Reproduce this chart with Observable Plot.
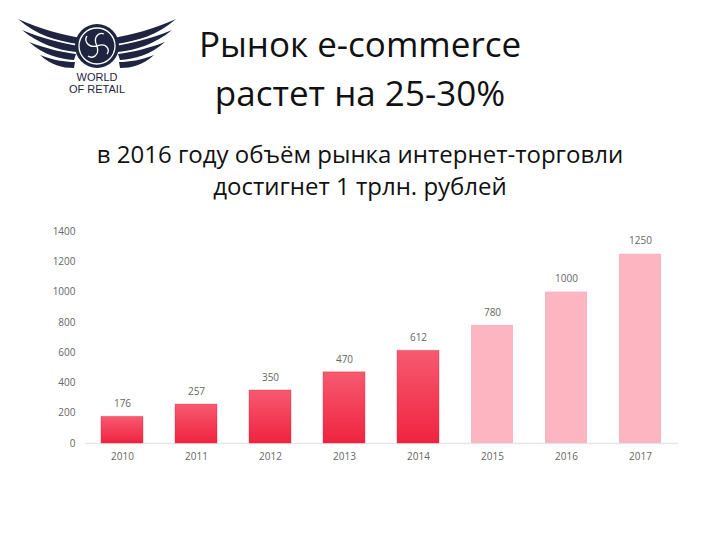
<!DOCTYPE html>
<html>
<head>
<meta charset="utf-8">
<script src="https://cdn.jsdelivr.net/npm/d3@7"></script>
<script src="https://cdn.jsdelivr.net/npm/@observablehq/plot@0.6"></script>
<style>
  html, body { margin: 0; padding: 0; background: #fff; width: 720px; height: 540px; overflow: hidden; }
  body { position: relative; font-family: "Open Sans", sans-serif; color: #111; }
  .t { position: absolute; left: 0; width: 720px; text-align: center; white-space: nowrap; }
  #title1 { top: 22px; font-size: 35px; line-height: 44px; }
  #title2 { top: 71px; font-size: 35px; line-height: 44px; }
  #sub1 { top: 139px; font-size: 24px; line-height: 30px; }
  #sub2 { top: 171px; font-size: 24px; line-height: 30px; }
  #logo { position: absolute; left: 12px; top: 14px; }
  #chart { position: absolute; left: 0; top: 215px; }
</style>
</head>
<body>
<svg id="logo" width="170" height="85" viewBox="0 0 170 85">
  <g fill="#1f2540">
    <path d="M6 5 C30 16 50 20 68 24 L66 30 C45 27 24 21 6 5 Z"/>
    <path d="M10 16 C32 25 50 29 66 32 L64 38 C45 36 27 30 10 16 Z"/>
    <path d="M17 28 C35 35 50 38 64 40 L62 46 C47 45 32 41 17 28 Z"/>
    <path d="M28 41 C41 46 52 48 63 48 L62 54 C50 54 39 51 28 41 Z"/>
    <path d="M164 5 C140 16 120 20 102 24 L104 30 C125 27 146 21 164 5 Z"/>
    <path d="M160 16 C138 25 120 29 104 32 L106 38 C125 36 143 30 160 16 Z"/>
    <path d="M153 28 C135 35 120 38 106 40 L108 46 C123 45 138 41 153 28 Z"/>
    <path d="M142 41 C129 46 118 48 107 48 L108 54 C120 54 131 51 142 41 Z"/>
    <circle cx="85" cy="32" r="22"/>
  </g>
  <g fill="none" stroke="#fff" stroke-width="1.3">
    <circle cx="85" cy="32" r="18"/>
    <path d="M85 32 C80 22 88 18 92 20 M85 32 C95 28 98 36 95 40 M85 32 C88 42 80 45 76 42 M85 32 C75 34 72 26 75 22"/>
  </g>
  <text x="85" y="67" text-anchor="middle" font-family="Liberation Sans, sans-serif" font-size="11" fill="#1f2540">WORLD</text>
  <text x="85" y="79" text-anchor="middle" font-family="Liberation Sans, sans-serif" font-size="11" fill="#1f2540">OF RETAIL</text>
</svg>
<div class="t" id="title1">Рынок e-commerce</div>
<div class="t" id="title2">растет на 25-30%</div>
<div class="t" id="sub1">в 2016 году объём рынка интернет-торговли</div>
<div class="t" id="sub2">достигнет 1 трлн. рублей</div>
<div id="chart"></div>
<script>
const years = ["2010", "2011", "2012", "2013", "2014", "2015", "2016", "2017"];
const values = [176, 257, 350, 470, 612, 780, 1000, 1250];
const kinds = ["fact", "fact", "fact", "fact", "fact", "forecast", "forecast", "forecast"];
const yTicks = [0, 200, 400, 600, 800, 1000, 1200, 1400];

const data = years.map((y, i) => ({year: y, value: values[i], kind: kinds[i]}));

const chart = Plot.plot({
  width: 720,
  height: 260,
  marginTop: 16,
  marginBottom: 32,
  marginLeft: 85,
  marginRight: 42,
  style: {fontFamily: "Open Sans, sans-serif", fontSize: "10px", color: "#666", background: "transparent"},
  x: {domain: years, paddingInner: 0.43, paddingOuter: 0.215, label: null, tickSize: 0, tickPadding: 9},
  y: {domain: [0, 1400], ticks: yTicks, tickFormat: d => String(d), label: null, tickSize: 0, tickPadding: 10},
  marks: [
    Plot.ruleY([0], {stroke: "#e6e6e6", strokeWidth: 1.5}),
    Plot.barY(data.filter(d => d.kind === "fact"), {x: "year", y: "value", fill: "url(#redGrad)", stroke: "#d8233e", strokeOpacity: 0.35, strokeWidth: 1}),
    Plot.barY(data.filter(d => d.kind === "forecast"), {x: "year", y: "value", fill: "#fdb6c1"}),
    Plot.text(data, {x: "year", y: "value", text: d => String(d.value), dy: -13, fill: "#666", fontSize: 10})
  ]
});

const defs = d3.select(chart).insert("defs", ":first-child");
const g = defs.append("linearGradient").attr("id", "redGrad").attr("x1", 0).attr("y1", 0).attr("x2", 0).attr("y2", 1);
g.append("stop").attr("offset", "0%").attr("stop-color", "#f75a70");
g.append("stop").attr("offset", "100%").attr("stop-color", "#f0233f");

document.getElementById("chart").appendChild(chart);
</script>
</body>
</html>
